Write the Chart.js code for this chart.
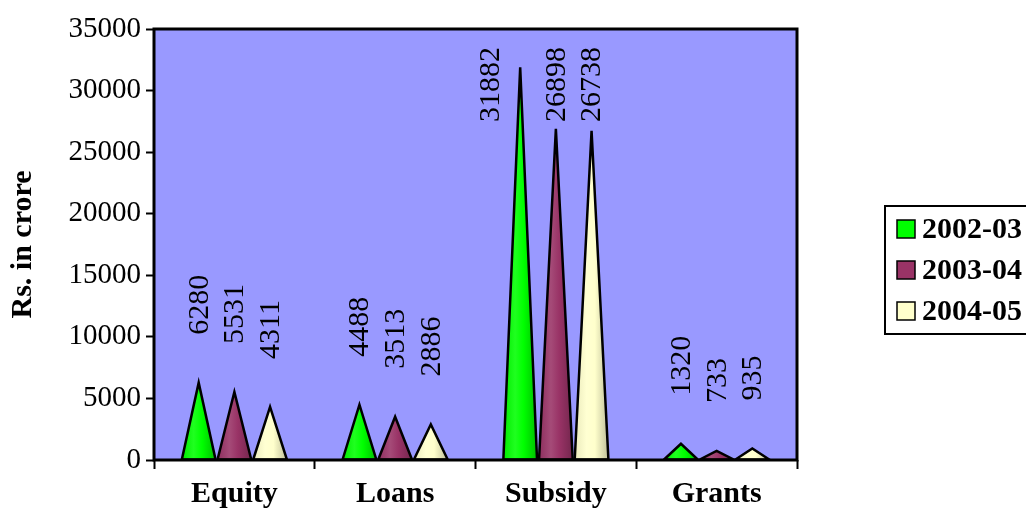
<!DOCTYPE html>
<html>
<head>
<meta charset="utf-8">
<style>
  html, body { margin: 0; padding: 0; background: #ffffff; }
  #wrap { width: 1026px; height: 508px; position: relative; }
</style>
<script src="https://cdn.jsdelivr.net/npm/chart.js@4.4.1/dist/chart.umd.min.js"></script>
</head>
<body>
<div id="wrap"><canvas id="chart" width="1026" height="508"></canvas></div>
<script>
// Categories and yearly series (Rs. in crore)
const categories = ['Equity', 'Loans', 'Subsidy', 'Grants'];
const seriesLabels = ['2002-03', '2003-04', '2004-05'];
const values2002 = [6280, 4488, 31882, 1320];
const values2003 = [5531, 3513, 26898, 733];
const values2004 = [4311, 2886, 26738, 935];
const seriesColors = ['#00FF00', '#993366', '#FFFFCC'];
const yMin = 0;
const yMax = 35000;
const yStep = 5000;

const serif = "'Liberation Serif', 'Times New Roman', serif";
const plotBg = '#9999FF';

function mix(hex, target, t) {
  const n = parseInt(hex.slice(1), 16);
  const r = (n >> 16) & 255, g = (n >> 8) & 255, b = n & 255;
  const tr = target === 'w' ? 255 : 0;
  const f = v => Math.round(v + (tr - v) * t);
  return `rgb(${f(r)},${f(g)},${f(b)})`;
}

// Plot area fill
const plotBackground = {
  id: 'plotBackground',
  beforeDraw(chart) {
    const { ctx, chartArea: a } = chart;
    ctx.save();
    ctx.fillStyle = plotBg;
    ctx.fillRect(a.left, a.top, a.right - a.left, a.bottom - a.top);
    ctx.restore();
  }
};

// Each bar is drawn as a shaded cone (triangle) using the bar element geometry
const cones = {
  id: 'cones',
  beforeDatasetDraw(chart, args) {
    const { ctx } = chart;
    const meta = args.meta;
    const color = chart.data.datasets[args.index].backgroundColor;
    ctx.save();
    meta.data.forEach(el => {
      const { x, y, base, width } = el.getProps(['x', 'y', 'base', 'width'], true);
      const l = x - width / 2 + 1, r = x + width / 2 - 1;
      const g = ctx.createLinearGradient(l, 0, r, 0);
      g.addColorStop(0, mix(color, 'k', 0.08));
      g.addColorStop(0.35, mix(color, 'w', 0.12));
      g.addColorStop(0.6, color);
      g.addColorStop(1, mix(color, 'k', 0.25));
      ctx.beginPath();
      ctx.moveTo(l, base);
      ctx.lineTo(x, y);
      ctx.lineTo(r, base);
      ctx.closePath();
      ctx.fillStyle = g;
      ctx.fill();
      ctx.lineWidth = 2.5;
      ctx.lineJoin = 'miter';
      ctx.strokeStyle = '#000';
      ctx.stroke();
    });
    ctx.restore();
    return false;
  }
};

// Frame around the plot area
const plotFrame = {
  id: 'plotFrame',
  afterDatasetsDraw(chart) {
    const { ctx, chartArea: a } = chart;
    ctx.save();
    ctx.lineWidth = 3;
    ctx.strokeStyle = '#000';
    ctx.strokeRect(a.left, a.top, a.right - a.left, a.bottom - a.top);
    ctx.restore();
  }
};

// Vertical value labels above each cone
const valueLabels = {
  id: 'valueLabels',
  afterDatasetsDraw(chart) {
    const { ctx, chartArea: a } = chart;
    ctx.save();
    ctx.font = `30px ${serif}`;
    ctx.fillStyle = '#000';
    ctx.textBaseline = 'middle';
    ctx.textAlign = 'left';
    chart.data.datasets.forEach((ds, di) => {
      const meta = chart.getDatasetMeta(di);
      meta.data.forEach((el, i) => {
        const text = String(ds.data[i]);
        const w = ctx.measureText(text).width;
        let x = el.x;
        let start = el.y - 48;            // where the text begins (bottom end)
        if (start - w < a.top + 18) start = a.top + 18 + w;
        if (start > el.y - 4) x -= el.width * 0.85;
        ctx.save();
        ctx.translate(x, start);
        ctx.rotate(-Math.PI / 2);
        ctx.fillText(text, 0, 1);
        ctx.restore();
      });
    });
    ctx.restore();
  }
};

// Framed legend on the right
const sideLegend = {
  id: 'sideLegend',
  afterDraw(chart) {
    const { ctx } = chart;
    const left = 885, top = 206, bottom = 334;
    ctx.save();
    ctx.lineWidth = 2;
    ctx.strokeStyle = '#000';
    ctx.strokeRect(left, top, 200, bottom - top);
    ctx.font = `bold 30px ${serif}`;
    ctx.textBaseline = 'middle';
    ctx.textAlign = 'left';
    chart.data.datasets.forEach((ds, i) => {
      const cy = 229 + i * 41;
      ctx.fillStyle = ds.backgroundColor;
      ctx.fillRect(897, cy - 9, 18, 18);
      ctx.lineWidth = 1.5;
      ctx.strokeRect(897, cy - 9, 18, 18);
      ctx.fillStyle = '#000';
      ctx.fillText(ds.label, 922, cy + 1);
    });
    ctx.restore();
  }
};

const seriesValues = [values2002, values2003, values2004];

new Chart(document.getElementById('chart'), {
  type: 'bar',
  data: {
    labels: categories,
    datasets: seriesLabels.map((label, i) => ({
      label,
      data: seriesValues[i],
      backgroundColor: seriesColors[i],
      borderWidth: 0,
      categoryPercentage: 0.666,
      barPercentage: 1.0
    }))
  },
  options: {
    responsive: false,
    animation: false,
    devicePixelRatio: 1,
    layout: { padding: { top: 29, right: 229, bottom: 0, left: 0 } },
    plugins: {
      legend: { display: false },
      title: { display: false },
      tooltip: { enabled: false }
    },
    scales: {
      x: {
        grid: {
          display: true, drawOnChartArea: false, drawTicks: true,
          tickLength: 9, tickWidth: 2, tickColor: '#000', offset: true
        },
        border: { display: false },
        ticks: {
          color: '#000', padding: 7,
          font: { family: serif, size: 30, weight: 'bold' }
        },
        afterFit(scale) { scale.height = 48; }
      },
      y: {
        min: yMin,
        max: yMax,
        grid: {
          display: true, drawOnChartArea: false, drawTicks: true,
          tickLength: 8, tickWidth: 2, tickColor: '#000'
        },
        border: { display: false },
        ticks: {
          stepSize: yStep,
          color: '#000',
          padding: 5,
          font: { family: serif, size: 29 },
          callback: v => String(v)
        },
        title: {
          display: true,
          text: 'Rs. in crore',
          color: '#000',
          font: { family: serif, size: 30, weight: 'bold' },
          padding: { top: 5, bottom: 0 }
        },
        afterFit(scale) { scale.width = 154; }
      }
    }
  },
  plugins: [plotBackground, cones, plotFrame, valueLabels, sideLegend]
});
</script>
</body>
</html>
